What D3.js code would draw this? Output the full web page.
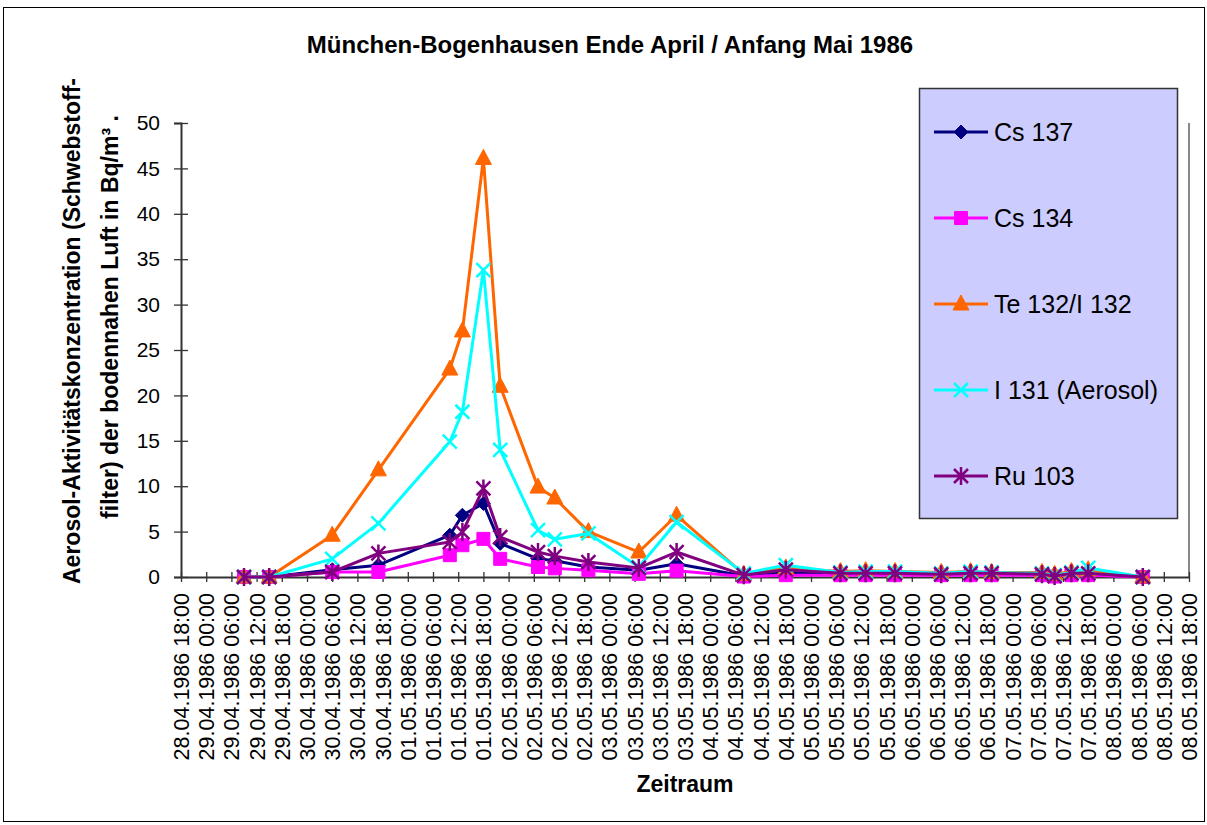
<!DOCTYPE html>
<html>
<head>
<meta charset="utf-8">
<script src="https://cdn.jsdelivr.net/npm/d3@7"></script>
<style>
body { margin: 0; background: #fff; }
text { font-family: "Liberation Sans", Arial, sans-serif; }
</style>
</head>
<body>
<script>
// data (times in UTC, hourly resolution)
var times = ["29.04.1986 09:00", "29.04.1986 15:00", "30.04.1986 06:00", "30.04.1986 17:00",
    "01.05.1986 10:00", "01.05.1986 13:00", "01.05.1986 18:00", "01.05.1986 22:00",
    "02.05.1986 07:00", "02.05.1986 11:00", "02.05.1986 19:00", "03.05.1986 07:00",
    "03.05.1986 16:00", "04.05.1986 08:00", "04.05.1986 18:00", "05.05.1986 07:00",
    "05.05.1986 13:00", "05.05.1986 20:00", "06.05.1986 07:00", "06.05.1986 14:00",
    "06.05.1986 19:00", "07.05.1986 07:00", "07.05.1986 10:00", "07.05.1986 14:00",
    "07.05.1986 18:00", "08.05.1986 07:00"];

var cs137 = [0, 0, 0.8, 1.3, 4.6, 6.8, 8.1, 3.7, 2.0, 1.8, 1.1, 0.75, 1.45, 0.1, 0.5,
    0.3, 0.3, 0.3, 0.3, 0.3, 0.3, 0.3, 0.1, 0.3, 0.3, 0];
var cs134 = [0, 0, 0.55, 0.55, 2.4, 3.5, 4.2, 2.0, 1.1, 0.95, 0.75, 0.35, 0.7, 0.05, 0.2,
    0.2, 0.2, 0.2, 0.2, 0.2, 0.2, 0.2, 0.05, 0.2, 0.2, 0];
var te132 = [0, 0, 4.6, 11.8, 22.9, 27.1, 46.1, 21.0, 9.9, 8.7, 5.0, 2.75, 6.8, 0.3, 1.0,
    0.6, 0.7, 0.6, 0.5, 0.6, 0.5, 0.5, 0.3, 0.6, 0.8, 0];
var i131 = [0, 0, 2.0, 5.9, 14.9, 18.2, 33.8, 14.0, 5.15, 4.15, 4.8, 1.1, 6.05, 0.4, 1.3,
    0.5, 0.6, 0.6, 0.4, 0.6, 0.5, 0.4, 0.2, 0.5, 1.0, 0];
var ru103 = [0, 0, 0.55, 2.6, 3.85, 4.95, 9.75, 4.4, 2.75, 2.3, 1.65, 1.0, 2.75, 0.2, 0.8,
    0.4, 0.4, 0.4, 0.3, 0.4, 0.4, 0.3, 0.1, 0.4, 0.4, 0];

var seriesNames = ["Cs 137", "Cs 134", "Te 132/I 132", "I 131 (Aerosol)", "Ru 103"];
var yTicks = [0, 5, 10, 15, 20, 25, 30, 35, 40, 45, 50];
var xStart = "28.04.1986 18:00";
var xEnd = "08.05.1986 18:00";

var title = "München-Bogenhausen Ende April / Anfang Mai 1986";
var xTitle = "Zeitraum";
var yTitle1 = "Aerosol-Aktivitätskonzentration (Schwebstoff-";
var yTitle2 = "filter) der bodennahen Luft in Bq/m³ .";

// layout
var width = 1207;
var height = 825;
var plot = { left: 181, right: 1189, top: 123, bottom: 577 };

var styles = [
    { color: "#000080", marker: "diamond" },
    { color: "#ff00ff", marker: "square" },
    { color: "#ff6600", marker: "triangle" },
    { color: "#00ffff", marker: "x" },
    { color: "#800080", marker: "star" }
];

var parse = d3.utcParse("%d.%m.%Y %H:%M");
var fmt = d3.utcFormat("%d.%m.%Y %H:%M");
var dates = times.map(parse);
var allValues = [cs137, cs134, te132, i131, ru103];

var series = seriesNames.map(function(name, k) {
    return {
        name: name,
        style: styles[k],
        points: dates.map(function(d, i) { return { t: d, v: allValues[k][i] }; })
    };
});

var svg = d3.select("body").append("svg")
    .attr("width", width)
    .attr("height", height);

// outer frame
svg.append("rect")
    .attr("x", 3.5).attr("y", 7.5)
    .attr("width", 1201).attr("height", 814)
    .attr("fill", "#fff")
    .attr("stroke", "#000")
    .attr("stroke-width", 1);

var x = d3.scaleUtc()
    .domain([parse(xStart), parse(xEnd)])
    .range([plot.left, plot.right]);

var y = d3.scaleLinear()
    .domain([0, 50])
    .range([plot.bottom, plot.top]);

// right border of plot area
svg.append("line")
    .attr("x1", plot.right).attr("x2", plot.right)
    .attr("y1", plot.top).attr("y2", plot.bottom)
    .attr("stroke", "#888")
    .attr("stroke-width", 2);

// y axis
var yAxis = svg.append("g")
    .attr("transform", "translate(" + plot.left + ",0)")
    .call(d3.axisLeft(y).tickValues(yTicks).tickSize(7).tickPadding(14));
yAxis.select(".domain").attr("stroke", "#333").attr("stroke-width", 2);
yAxis.selectAll(".tick line")
    .attr("x2", 7).attr("x1", -7)
    .attr("stroke", "#333").attr("stroke-width", 1.3);
yAxis.selectAll(".tick text")
    .attr("font-size", 21)
    .attr("fill", "#000")
    .attr("font-family", "Liberation Sans, Arial, sans-serif");

// x axis
var xTickVals = x.ticks(d3.utcHour.every(6));
var xAxis = svg.append("g")
    .attr("transform", "translate(0," + plot.bottom + ")")
    .call(d3.axisBottom(x).tickValues(xTickVals).tickFormat(fmt).tickSize(5).tickSizeOuter(0));
xAxis.select(".domain").attr("stroke", "#333").attr("stroke-width", 2);
xAxis.selectAll(".tick line")
    .attr("y1", -5).attr("y2", 5)
    .attr("stroke", "#333").attr("stroke-width", 1.3);
xAxis.selectAll(".tick text")
    .attr("font-size", 21.5)
    .attr("fill", "#000")
    .attr("font-family", "Liberation Sans, Arial, sans-serif")
    .attr("text-anchor", "end")
    .attr("dy", "0.35em")
    .attr("transform", "translate(0,16) rotate(-90)")
    .attr("x", 0).attr("y", 0);

// lines
var line = d3.line()
    .x(function(d) { return x(d.t); })
    .y(function(d) { return y(d.v); });

function markerPath(type) {
    if (type === "diamond") return "M0,-7L7,0L0,7L-7,0Z";
    if (type === "square") return "M-6.5,-6.5H6.5V6.5H-6.5Z";
    if (type === "triangle") return "M0,-9L8,6L-8,6Z";
    if (type === "x") return "M-7,-7L7,7M-7,7L7,-7";
    return "M-7,-7L7,7M-7,7L7,-7M0,-9V9";
}

function drawMarker(g, style) {
    var filled = style.marker === "diamond" || style.marker === "square" || style.marker === "triangle";
    g.append("path")
        .attr("d", markerPath(style.marker))
        .attr("fill", filled ? style.color : "none")
        .attr("stroke", style.color)
        .attr("stroke-width", filled ? 1 : 2.5);
}

series.forEach(function(s) {
    svg.append("path")
        .datum(s.points)
        .attr("fill", "none")
        .attr("stroke", s.style.color)
        .attr("stroke-width", 3)
        .attr("stroke-linejoin", "round")
        .attr("d", line);

    svg.selectAll(null)
        .data(s.points)
        .enter().append("g")
        .attr("transform", function(d) { return "translate(" + x(d.t) + "," + y(d.v) + ")"; })
        .each(function() { drawMarker(d3.select(this), s.style); });
});

// title
svg.append("text")
    .attr("x", 610).attr("y", 53)
    .attr("text-anchor", "middle")
    .attr("font-size", 24)
    .attr("font-weight", "bold")
    .text(title);

svg.append("text")
    .attr("x", 685).attr("y", 792)
    .attr("text-anchor", "middle")
    .attr("font-size", 23)
    .attr("font-weight", "bold")
    .text(xTitle);

svg.append("text")
    .attr("transform", "translate(80,331) rotate(-90)")
    .attr("text-anchor", "middle")
    .attr("font-size", 23)
    .attr("font-weight", "bold")
    .text(yTitle1);

svg.append("text")
    .attr("transform", "translate(118,317) rotate(-90)")
    .attr("text-anchor", "middle")
    .attr("font-size", 23)
    .attr("font-weight", "bold")
    .text(yTitle2);

// legend
var legend = svg.append("g");
legend.append("rect")
    .attr("x", 919.5).attr("y", 88.5)
    .attr("width", 258).attr("height", 430)
    .attr("fill", "#ccccff")
    .attr("stroke", "#333")
    .attr("stroke-width", 1.5);

series.forEach(function(s, i) {
    var ly = 132 + i * 86;
    var g = legend.append("g").attr("transform", "translate(0," + ly + ")");
    g.append("line")
        .attr("x1", 934).attr("x2", 988)
        .attr("y1", 0).attr("y2", 0)
        .attr("stroke", s.style.color)
        .attr("stroke-width", 3);
    drawMarker(g.append("g").attr("transform", "translate(961,0)"), s.style);
    g.append("text")
        .attr("x", 994).attr("y", 0)
        .attr("dy", "0.35em")
        .attr("font-size", 25)
        .text(s.name);
});
</script>
</body>
</html>
